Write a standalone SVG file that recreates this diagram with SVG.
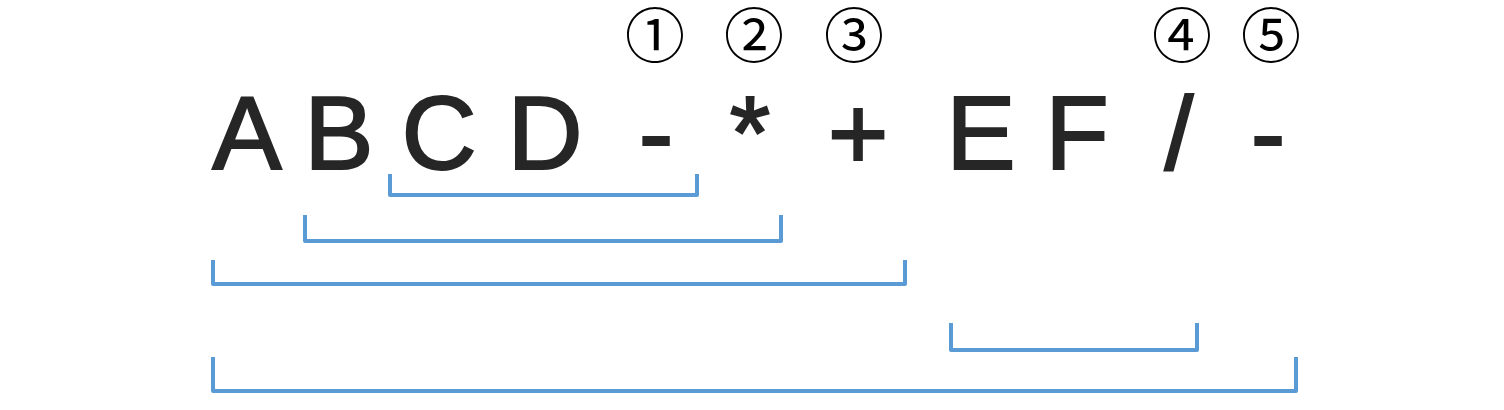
<svg xmlns="http://www.w3.org/2000/svg" width="1504" height="410" viewBox="0 0 1504 410">
<style>
.t{font-family:"Liberation Sans",Arial,sans-serif;font-size:104px;fill:#262626;stroke:#262626;stroke-width:2;text-anchor:middle}
.n{font-family:"DejaVu Serif","Noto Sans CJK SC",serif;font-size:60px;fill:#000;text-anchor:middle}
.b{fill:none;stroke:#5B9BD5;stroke-width:4;stroke-linejoin:round}
</style>
<rect width="1504" height="410" fill="#fff"/>
<g id="tokens">
<g id="A"><text class="t" x="247" y="169">A</text></g>
<g id="B"><text class="t" x="339" y="169">B</text></g>
<g id="C"><text class="t" x="439" y="169">C</text></g>
<g id="D"><text class="t" x="545" y="169">D</text></g>
<g id="op1"><text class="t" x="656" y="169">-</text></g>
<g id="op2"><text class="t" x="750" y="169">*</text></g>
<g id="op3"><text class="t" x="858" y="169">+</text></g>
<g id="E"><text class="t" x="981" y="169">E</text></g>
<g id="F"><text class="t" x="1077" y="169">F</text></g>
<g id="op4"><text class="t" x="1179" y="169">/</text></g>
<g id="op5"><text class="t" x="1268" y="169">-</text></g>
</g>
<g id="numbers">
<g id="n1"><text class="n" x="655" y="58">①</text></g>
<g id="n2"><text class="n" x="754" y="58">②</text></g>
<g id="n3"><text class="n" x="854" y="58">③</text></g>
<g id="n4"><text class="n" x="1182" y="58">④</text></g>
<g id="n5"><text class="n" x="1271" y="58">⑤</text></g>
</g>
<g id="connectors">
<path class="b" d="M390 174V195H697V174"/>
<path class="b" d="M305 215V241H781V215"/>
<path class="b" d="M213 260V284H905V260"/>
<path class="b" d="M951 323V350H1197V323"/>
<path class="b" d="M213 357V391H1296V357"/>
</g>
</svg>
